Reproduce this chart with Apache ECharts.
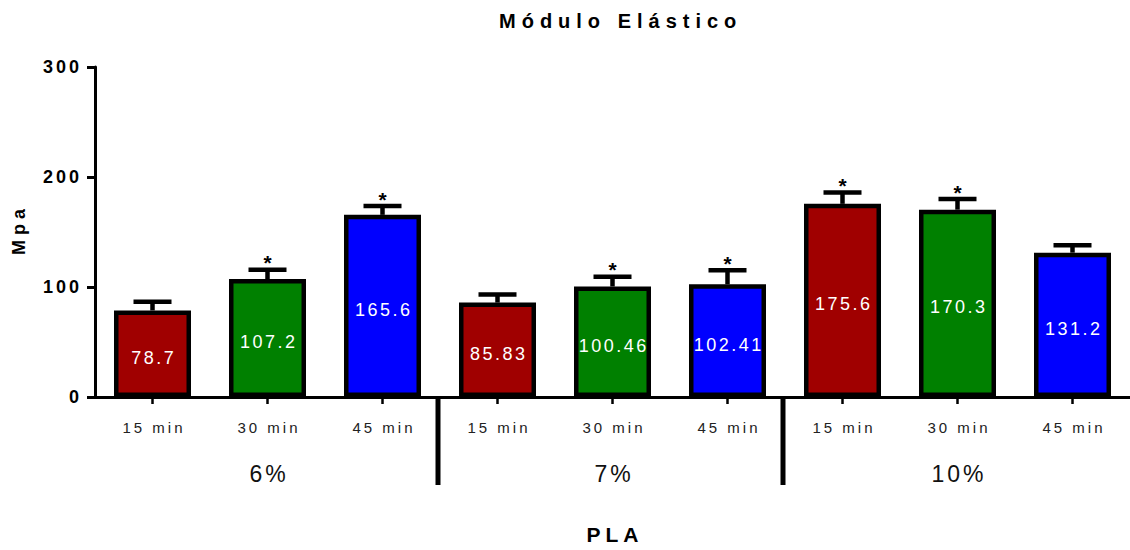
<!DOCTYPE html>
<html>
<head>
<meta charset="utf-8">
<script src="https://cdn.jsdelivr.net/npm/echarts@6/dist/echarts.min.js"></script>
<style>
html,body{margin:0;padding:0;background:#fff;overflow:hidden;}
#chart{width:1130px;height:550px;overflow:hidden;}
#chart svg{display:block;}
</style>
</head>
<body>
<div id="chart"></div>
<script>
// ---- data ----
const categories = ['15 min','30 min','45 min','15 min','30 min','45 min','15 min','30 min','45 min'];
const groups = ['6%','7%','10%'];
const values = [78.7, 107.2, 165.6, 85.83, 100.46, 102.41, 175.6, 170.3, 131.2];
const errors = [8, 8.4, 8, 7.3, 8.9, 12.9, 10.4, 9.6, 6.8];
const stars = [0, 1, 1, 0, 1, 1, 1, 1, 0];
const yTicks = [0, 100, 200, 300];
const titleText = 'Módulo Elástico';
const yName = 'Mpa';
const xName = 'PLA';

const barColors = ['#a00000', '#008000', '#0000ff'];
const FONT = "'Liberation Sans', Arial, Helvetica, sans-serif";

const perGroup = categories.length / groups.length;
const sepData = [];
for (let g = 1; g < groups.length; g++) sepData.push([g * perGroup - 1, 0]);

const errData = values.map((v, i) => [i, v, errors[i], stars[i]]);

const chart = echarts.init(document.getElementById('chart'), null, {renderer: 'svg'});

const option = {
  animation: false,
  backgroundColor: '#fff',
  title: {
    text: titleText,
    left: 494,
    top: 6,
    textStyle: {fontFamily: FONT, fontSize: 20, fontWeight: 'bold', color: '#000'}
  },
  grid: {left: 95, right: -4, top: 67, bottom: 151.5, containLabel: false},
  xAxis: [
    {
      type: 'category',
      data: categories,
      position: 'bottom',
      axisLine: {show: true, lineStyle: {color: '#000', width: 3}},
      axisTick: {show: true, alignWithLabel: true, length: 7, lineStyle: {color: '#000', width: 2.5}},
      axisLabel: {margin: 23, fontFamily: FONT, fontSize: 15, color: '#222', interval: 0},
      splitLine: {show: false}
    },
    {
      type: 'category',
      data: groups,
      position: 'bottom',
      offset: 0,
      axisLine: {show: false},
      axisTick: {show: false},
      axisLabel: {margin: 65, fontFamily: FONT, fontSize: 23, color: '#111', interval: 0},
      splitLine: {show: false},
      name: xName,
      nameLocation: 'middle',
      nameGap: 127,
      nameTextStyle: {fontFamily: FONT, fontSize: 21, fontWeight: 'bold', color: '#000'}
    }
  ],
  yAxis: {
    type: 'value',
    min: yTicks[0],
    max: yTicks[yTicks.length - 1],
    interval: yTicks[1] - yTicks[0],
    axisLine: {show: true, lineStyle: {color: '#000', width: 3}},
    axisTick: {show: true, length: 8, lineStyle: {color: '#000', width: 3}},
    axisLabel: {margin: 16, fontFamily: FONT, fontSize: 18, fontWeight: 'bold', color: '#000'},
    splitLine: {show: false},
    name: yName,
    nameLocation: 'middle',
    nameGap: 67,
    nameTextStyle: {fontFamily: FONT, fontSize: 18, fontWeight: 'bold', color: '#000'}
  },
  series: [
    {
      type: 'bar',
      xAxisIndex: 0,
      data: values.map((v, i) => ({value: v, itemStyle: {color: barColors[i % barColors.length]}})),
      barWidth: 77,
      itemStyle: {borderColor: '#000', borderWidth: 4.5},
      label: {
        show: true,
        position: 'inside',
        offset: [0, 4],
        color: '#fff',
        fontFamily: FONT,
        fontSize: 18,
        formatter: p => String(p.value)
      },
      z: 2
    },
    {
      type: 'custom',
      xAxisIndex: 0,
      data: errData,
      encode: {x: 0, y: 1},
      clip: false,
      z: 1,
      renderItem: function (params, api) {
        const x = api.value(0), v = api.value(1), e = api.value(2), s = api.value(3);
        const base = api.coord([x, v]);
        const top = api.coord([x, v + e]);
        const children = [
          {type: 'line', shape: {x1: base[0], y1: base[1], x2: top[0], y2: top[1]}, style: {stroke: '#000', lineWidth: 4.5}},
          {type: 'line', shape: {x1: top[0] - 19, y1: top[1], x2: top[0] + 19, y2: top[1]}, style: {stroke: '#000', lineWidth: 4.5}}
        ];
        if (s) {
          children.push({type: 'text', style: {text: '*', x: top[0], y: top[1] - 7, align: 'center', verticalAlign: 'middle', font: 'bold 21px ' + FONT, fill: '#000'}});
        }
        return {type: 'group', children: children};
      }
    },
    {
      type: 'custom',
      xAxisIndex: 0,
      data: sepData,
      encode: {x: 0, y: 1},
      clip: false,
      z: 3,
      renderItem: function (params, api) {
        const p = api.coord([api.value(0), api.value(1)]);
        const w = api.size([1, 0])[0];
        const x = p[0] + w / 2 - 2;
        return {type: 'line', shape: {x1: x, y1: p[1] - 1, x2: x, y2: p[1] + 88}, style: {stroke: '#000', lineWidth: 5}};
      }
    }
  ]
};

chart.setOption(option);

function spacingFor(t) {
  if (t === titleText) return 6;
  if (t === yName) return 5;
  if (t === xName) return 5;
  if (/min/.test(t)) return 3;
  if (/%/.test(t)) return 3;
  if (/^\d+\.\d+$/.test(t)) return 2.5;
  if (/^\d+$/.test(t)) return 3;
  return 0;
}
function applySpacing() {
  const texts = document.querySelectorAll('#chart svg text');
  texts.forEach(el => {
    const t = el.textContent;
    const ls = spacingFor(t);
    if (!ls) return;
    el.setAttribute('letter-spacing', ls + 'px');
    el.style.letterSpacing = ls + 'px';
    const anchor = el.getAttribute('text-anchor');
    let dx = 0;
    if (anchor === 'middle') dx = ls / 2;
    else if (anchor === 'end') dx = ls;
    el.setAttribute('dx', dx);
  });
}
applySpacing();
chart.on('finished', applySpacing);
</script>
</body>
</html>
